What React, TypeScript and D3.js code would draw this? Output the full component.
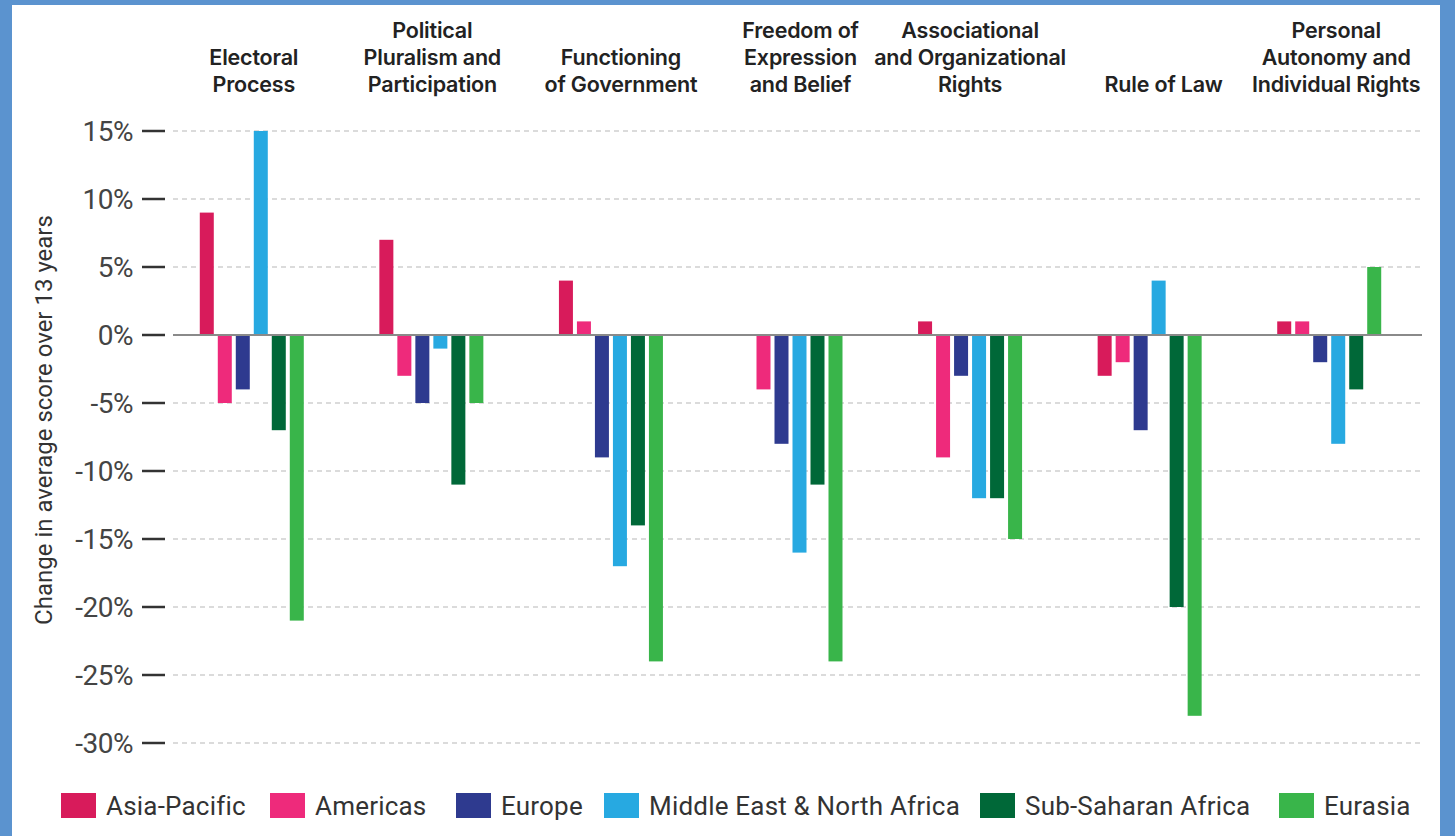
import React, { useEffect, useRef } from "react";
import * as d3 from "d3";

const categories = [
  ["Electoral", "Process"],
  ["Political", "Pluralism and", "Participation"],
  ["Functioning", "of Government"],
  ["Freedom of", "Expression", "and Belief"],
  ["Associational", "and Organizational", "Rights"],
  ["Rule of Law"],
  ["Personal", "Autonomy and", "Individual Rights"],
];
const regions = [
  "Asia-Pacific",
  "Americas",
  "Europe",
  "Middle East & North Africa",
  "Sub-Saharan Africa",
  "Eurasia",
];
const asiaPacific = [9, 7, 4, 0, 1, -3, 1];
const americas = [-5, -3, 1, -4, -9, -2, 1];
const europe = [-4, -5, -9, -8, -3, -7, -2];
const mena = [15, -1, -17, -16, -12, 4, -8];
const subSaharan = [-7, -11, -14, -11, -12, -20, -4];
const eurasia = [-21, -5, -24, -24, -15, -28, 5];
const yTicks = [15, 10, 5, 0, -5, -10, -15, -20, -25, -30];
const colors = ["#d81b5b", "#ee2a7b", "#2e3a8f", "#27a9e1", "#006838", "#39b54a"];
const labelShift = [2, 1, 10, 10, 0, 14, 7];
const legendX = [61, 270, 456, 604, 980, 1279];

const W = 1455;
const H = 836;

export default function App() {
  const ref = useRef<SVGSVGElement>(null);
  useEffect(() => {
    const svg = d3.select(ref.current);
    svg.selectAll("*").remove();
    const series = [asiaPacific, americas, europe, mena, subSaharan, eurasia];

    svg.append("rect").attr("width", W).attr("height", H).attr("fill", "#5b93cf");
    svg.append("rect").attr("x", 12).attr("y", 5).attr("width", 1428).attr("height", H - 5).attr("fill", "#ffffff");

    const y = d3.scaleLinear().domain([-30, 15]).range([743, 131]);
    const x = d3.scaleBand<number>().domain(d3.range(categories.length)).range([162, 1419]);
    const inner = d3
      .scaleBand<number>()
      .domain(d3.range(regions.length))
      .range([-54, 54])
      .paddingInner(4 / 18)
      .paddingOuter(2 / 18);

    // gridlines
    const grid = svg.append("g");
    yTicks.filter((t) => t !== 0).forEach((t) => {
      grid
        .append("line")
        .attr("x1", 173)
        .attr("x2", 1422)
        .attr("y1", y(t))
        .attr("y2", y(t))
        .attr("stroke", "#cfcfcf")
        .attr("stroke-width", 1.5)
        .attr("stroke-dasharray", "5,4");
    });

    // ticks + labels
    const axis = svg.append("g");
    yTicks.forEach((t) => {
      axis
        .append("line")
        .attr("x1", 142)
        .attr("x2", 165)
        .attr("y1", y(t))
        .attr("y2", y(t))
        .attr("stroke", "#333")
        .attr("stroke-width", 2.5);
      axis
        .append("text")
        .attr("x", 133)
        .attr("y", y(t))
        .attr("dy", "0.36em")
        .attr("text-anchor", "end")
        .attr("font-family", "Roboto, sans-serif")
        .attr("font-size", 28)
        .attr("letter-spacing", -0.5)
        .attr("fill", "#444")
        .text(`${t}%`);
    });

    svg
      .append("text")
      .attr("transform", `translate(52,420) rotate(-90)`)
      .attr("text-anchor", "middle")
      .attr("font-family", "Roboto, sans-serif")
      .attr("font-size", 24)
      .attr("fill", "#333")
      .text("Change in average score over 13 years");

    // bars
    const bars = svg.append("g");
    series.forEach((vals, si) => {
      vals.forEach((v, ci) => {
        const cx = (x(ci) as number) + x.bandwidth() / 2;
        bars
          .append("rect")
          .attr("x", cx + (inner(si) as number))
          .attr("width", inner.bandwidth())
          .attr("y", Math.min(y(v), y(0)))
          .attr("height", Math.abs(y(v) - y(0)))
          .attr("fill", colors[si]);
      });
    });

    // zero line
    svg
      .append("line")
      .attr("x1", 173)
      .attr("x2", 1422)
      .attr("y1", y(0))
      .attr("y2", y(0))
      .attr("stroke", "#8a8a8a")
      .attr("stroke-width", 2);

    // category labels
    const cat = svg.append("g");
    categories.forEach((lines, ci) => {
      const cx = (x(ci) as number) + x.bandwidth() / 2 + labelShift[ci];
      const n = lines.length;
      lines.forEach((ln, li) => {
        cat
          .append("text")
          .attr("x", cx)
          .attr("y", 92 - (n - 1 - li) * 27)
          .attr("text-anchor", "middle")
          .attr("font-family", "Inter, sans-serif")
          .attr("font-weight", 600)
          .attr("font-size", 21.5)
          .attr("letter-spacing", -0.2)
          .attr("fill", "#222")
          .text(ln);
      });
    });

    // legend
    const leg = svg.append("g");
    regions.forEach((r, i) => {
      const lx = legendX[i];
      leg.append("rect").attr("x", lx).attr("y", 793).attr("width", 35).attr("height", 25).attr("fill", colors[i]);
      leg
        .append("text")
        .attr("x", lx + 45)
        .attr("y", 805.5)
        .attr("dy", "0.36em")
        .attr("font-family", "Roboto, sans-serif")
        .attr("font-size", 26)
        .attr("letter-spacing", 0.2)
        .attr("fill", "#333")
        .text(r);
    });
  }, []);

  return (
    <svg
      ref={ref}
      width={W}
      height={H}
      style={{ position: "absolute", left: 0, top: 0, display: "block" }}
    />
  );
}
